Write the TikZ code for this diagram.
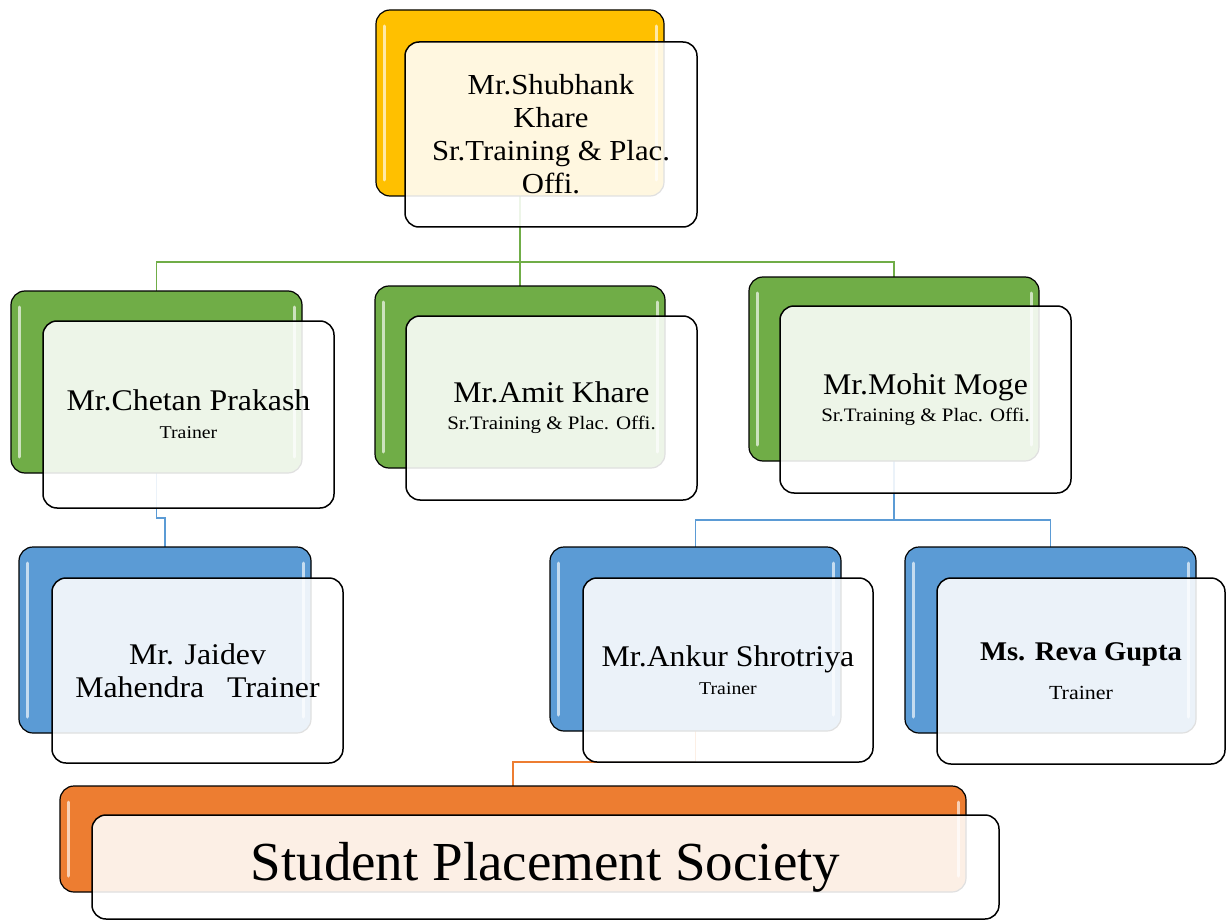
\documentclass[tikz,border=0pt]{standalone}
\usepackage{fontspec}
\setmainfont{Liberation Serif}
\newfontfamily\namefont[FakeStretch=1.06]{Liberation Serif}
\newfontfamily\subfont[FakeStretch=1.10]{Liberation Serif}
\definecolor{cyel}{HTML}{FFC000}
\definecolor{cgreen}{HTML}{70AD47}
\definecolor{cblue}{HTML}{5B9BD5}
\definecolor{corange}{HTML}{ED7D31}
\pgfdeclarelayer{bg}
\pgfsetlayers{bg,main}
\tikzset{
  backbox/.style={draw=black, line width=1.2pt, rounded corners=14pt, inner sep=0pt, outer sep=0pt},
  frontbox/.style={draw=black, line width=1.5pt, rounded corners=14pt, fill=white, fill opacity=0.88, text opacity=1, inner sep=0pt, outer sep=0pt, align=center},
  hlbar/.style={draw=white, draw opacity=0.65, line width=3pt, line cap=round},
  conn/.style={line width=1.6pt},
  twoline/.style={font=\namefont\fontsize{30}{#1}\selectfont},
}
\newcommand{\hlbars}[1]{%
  \draw[hlbar] ([xshift=8pt,yshift=-16pt]#1.north west) -- ([xshift=8pt,yshift=16pt]#1.south west);
  \draw[hlbar] ([xshift=-8pt,yshift=-16pt]#1.north east) -- ([xshift=-8pt,yshift=16pt]#1.south east);}
\newcommand{\subline}[2]{{\subfont\fontsize{#1}{#1}\selectfont #2}}
\begin{document}
\begin{tikzpicture}[x=1pt,y=-1pt]
\useasboundingbox (0,0) rectangle (1226,920);
% ---- back boxes
\node[backbox, fill=cyel, minimum width=288pt, minimum height=186pt] (topb) at (520,103) {};
\node[backbox, fill=cgreen, minimum width=291pt, minimum height=182pt] (g1b) at (156.5,382) {};
\node[backbox, fill=cgreen, minimum width=290pt, minimum height=182pt] (g2b) at (520,377) {};
\node[backbox, fill=cgreen, minimum width=290pt, minimum height=184pt] (g3b) at (894,369) {};
\node[backbox, fill=cblue, minimum width=292pt, minimum height=186pt] (b1b) at (165,640) {};
\node[backbox, fill=cblue, minimum width=291pt, minimum height=184pt] (b2b) at (695.5,639) {};
\node[backbox, fill=cblue, minimum width=291pt, minimum height=186pt] (b3b) at (1050.5,640) {};
\node[backbox, fill=corange, minimum width=906pt, minimum height=106pt] (ob) at (513,839) {};
\hlbars{topb}\hlbars{g1b}\hlbars{g2b}\hlbars{g3b}\hlbars{b1b}\hlbars{b2b}\hlbars{b3b}\hlbars{ob}
% ---- bus coordinates
\coordinate (gbus) at (520,262);
\coordinate (jbus) at (160,518);
\coordinate (mbus) at (894,520);
\coordinate (obus) at (600,762);
% ---- connectors
\begin{pgfonlayer}{bg}
\draw[conn, cgreen] (topb.south) |- (gbus) -| (g1b.north);
\draw[conn, cgreen] (topb.south) |- (gbus) -| (g2b.north);
\draw[conn, cgreen] (topb.south) |- (gbus) -| (g3b.north);
\draw[conn, cblue] (g1b.south) |- (jbus) -| (b1b.north);
\draw[conn, cblue] (g3b.south) |- (mbus) -| (b2b.north);
\draw[conn, cblue] (g3b.south) |- (mbus) -| (b3b.north);
\draw[conn, corange] (b2b.south) |- (obus) -| (ob.north);
\end{pgfonlayer}
% ---- front boxes
\node[frontbox, minimum width=292pt, minimum height=185pt, font=\namefont\fontsize{29}{33}\selectfont] (topf) at (551,134.5)
  {Mr.Shubhank\\Khare\\Sr.Training \& Plac.\\Offi.};
\node[frontbox, twoline=28, minimum width=291pt, minimum height=187pt] (g1f) at (188.5,414.5)
  {Mr.Chetan Prakash\\\subline{18}{Trainer}};
\node[frontbox, twoline=27, minimum width=291pt, minimum height=184pt] (g2f) at (551.5,408)
  {Mr.Amit Khare\\\subline{19}{Sr.Training \& Plac. Offi.}};
\node[frontbox, twoline=27, minimum width=291pt, minimum height=187pt] (g3f) at (925.5,399.5)
  {Mr.Mohit Moge\\\subline{19}{Sr.Training \& Plac. Offi.}};
\node[frontbox, twoline=33, minimum width=291pt, minimum height=185pt] (b1f) at (197.5,670.5)
  {Mr. Jaidev\\Mahendra\enspace\ Trainer};
\node[frontbox, twoline=28, minimum width=290pt, minimum height=184pt] (b2f) at (728,670)
  {Mr.Ankur Shrotriya\\\subline{18}{Trainer}};
\node[frontbox, font=\namefont\bfseries\fontsize{27}{39}\selectfont, minimum width=288pt, minimum height=186pt] (b3f) at (1081,671)
  {Ms. Reva Gupta\\\subline{20}{\mdseries Trainer}};
\node[frontbox, minimum width=907pt, minimum height=104pt, font=\fontsize{55}{60}\selectfont] (of) at (545.5,867)
  {Student Placement Society};
\end{tikzpicture}
\end{document}
